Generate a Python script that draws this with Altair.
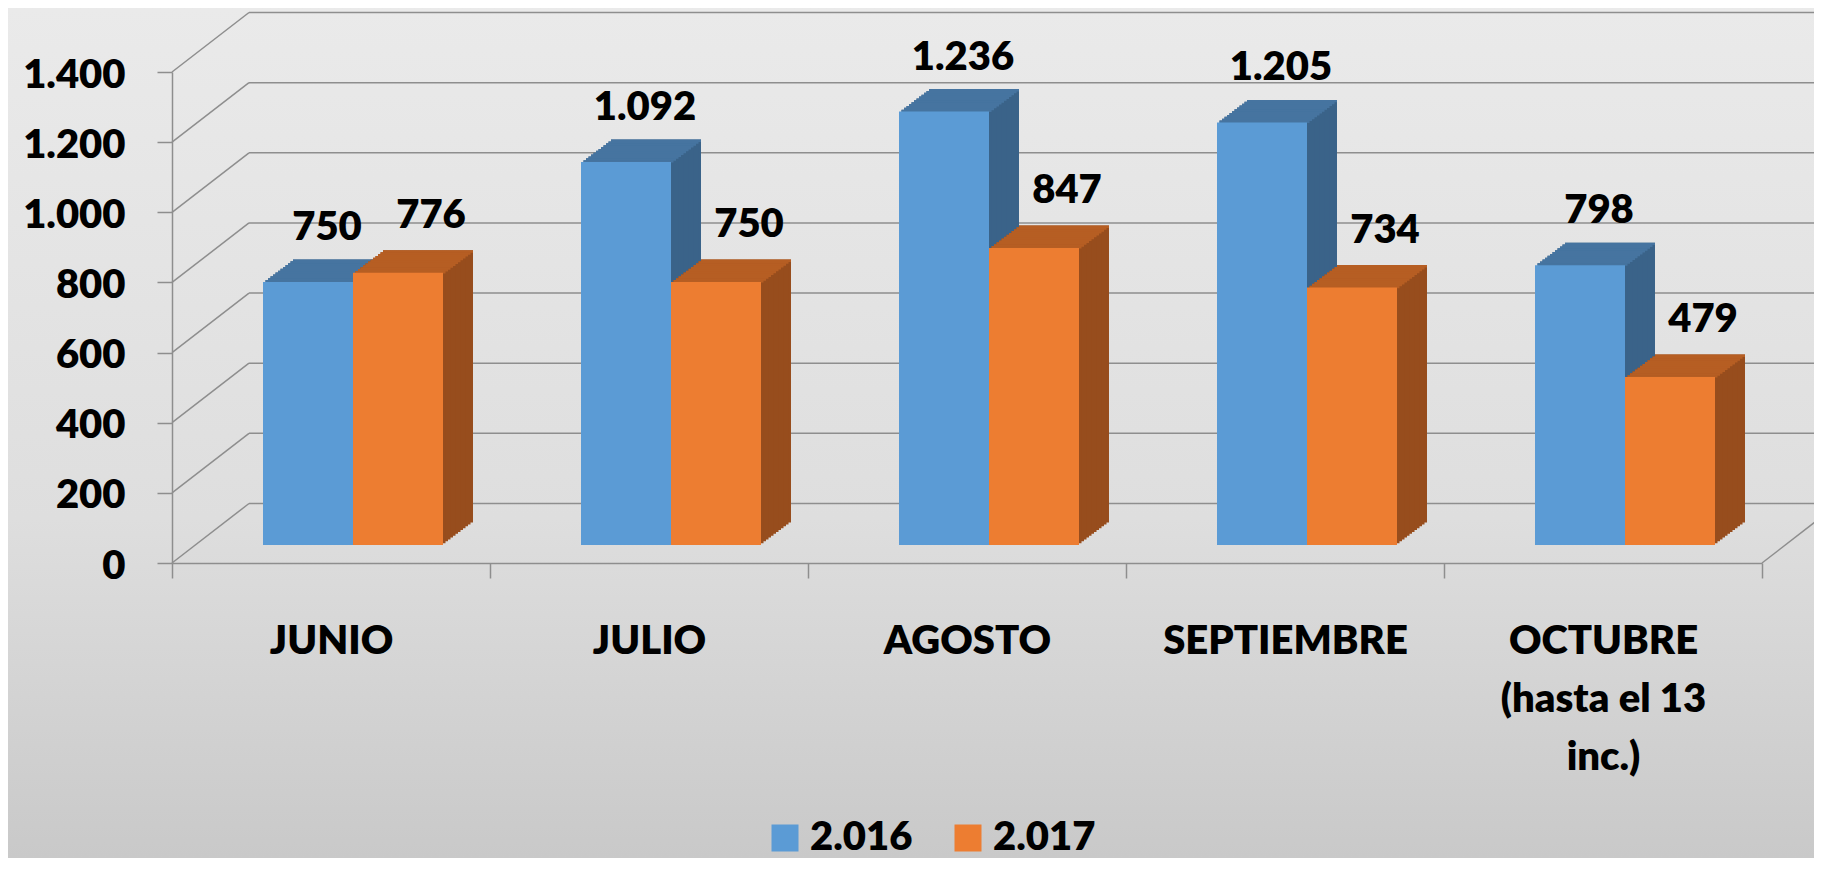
import altair as alt
import pandas as pd

# ---- data ----
months = ["JUNIO", "JULIO", "AGOSTO", "SEPTIEMBRE", "OCTUBRE\n(hasta el 13\ninc.)"]
series_names = ["2.016", "2.017"]
values_2016 = [750, 1092, 1236, 1205, 798]
values_2017 = [776, 750, 847, 734, 479]
y_ticks = [0, 200, 400, 600, 800, 1000, 1200, 1400]

rows = []
for s, vals in zip(series_names, [values_2016, values_2017]):
    for m, v in zip(months, vals):
        rows.append({"month": m, "series": s, "value": v,
                     "label": f"{v:,}".replace(",", ".")})
df = pd.DataFrame(rows)
grid_df = pd.DataFrame({"v": y_ticks})
floor_df = pd.DataFrame({"v": [0]})
one_df = pd.DataFrame({"a": [0]})

# ---- styling / geometry ----
W, H = 1590, 491
PAD = {"left": 164, "top": 64, "right": 52, "bottom": 295}
DEPTH_X, DEPTH_Y = 77, 59.5        # back wall offset
BAR_W = 90
BAR_SHIFT_X, BAR_SHIFT_Y = 22, 18  # bar front face depth
EXT_X, EXT_Y = 30, 22.5            # bar depth
N = 12
GRID = "#8e8e8e"
FONT = "Lato"
WEIGHT = 800

front = {"2.016": "#5B9BD5", "2.017": "#ED7D31"}
top_c = {"2.016": "#4674A0", "2.017": "#B65E23"}
side_c = {"2.016": "#3A6389", "2.017": "#974D1D"}
bar_off = {"2.016": BAR_SHIFT_X - BAR_W / 2, "2.017": BAR_SHIFT_X + BAR_W / 2}
label_dx = {"2.016": 19, "2.017": 33}
label_dy = {"2.016": -60, "2.017": -63}

x_enc = alt.X("month:N", sort=months, title=None,
              scale=alt.Scale(paddingInner=0, paddingOuter=0),
              axis=alt.Axis(labelExpr="split(datum.label, '\\n')",
                            labelFont=FONT, labelFontSize=40, labelFontWeight=WEIGHT,
                            labelColor="black", labelAngle=0, labelLineHeight=58,
                            labelPadding=43, labelLimit=600, tickBand="extent", tickSize=15,
                            tickColor=GRID, tickWidth=1.5, domainColor=GRID,
                            domainWidth=1.5, zindex=1))
y_scale = alt.Scale(domain=[0, 1400], nice=False)
y_enc = alt.Y("value:Q", scale=y_scale, title=None,
              axis=alt.Axis(values=y_ticks, grid=False,
                            labelExpr="replace(format(datum.value, ','), ',', '.')",
                            labelFont=FONT, labelFontSize=40, labelFontWeight=WEIGHT,
                            labelColor="black", labelPadding=32, labelOffset=3,
                            tickSize=15, tickColor=GRID, tickWidth=1.5,
                            domainColor=GRID, domainWidth=1.5, zindex=1))

layers = []

# background gradient
bg = alt.Chart(one_df).mark_rect(
    color=alt.LinearGradient(gradient="linear", x1=0, x2=0, y1=0, y2=1,
                             stops=[alt.GradientStop(color="#eaeaea", offset=0),
                                    alt.GradientStop(color="#dedede", offset=0.6),
                                    alt.GradientStop(color="#c9c9c9", offset=1)])
).encode(x=alt.value(-PAD["left"]), x2=alt.value(W + PAD["right"]),
         y=alt.value(-PAD["top"]), y2=alt.value(H + PAD["bottom"]))
layers.append(bg)

# back wall grid lines
back = alt.Chart(grid_df).mark_rule(color=GRID, strokeWidth=1.5, yOffset=-DEPTH_Y).encode(
    y=alt.Y("v:Q", scale=y_scale), x=alt.value(DEPTH_X), x2=alt.value(W + 200))
layers.append(back)

# left wall diagonals
diag = alt.Chart(grid_df).mark_rule(color=GRID, strokeWidth=1.5, y2Offset=-DEPTH_Y).encode(
    y=alt.Y("v:Q", scale=y_scale), y2="v:Q", x=alt.value(0), x2=alt.value(DEPTH_X))
layers.append(diag)

# right floor diagonal
rdiag = alt.Chart(floor_df).mark_rule(color=GRID, strokeWidth=1.5, y2Offset=-DEPTH_Y).encode(
    y=alt.Y("v:Q", scale=y_scale), y2="v:Q", x=alt.value(W), x2=alt.value(W + DEPTH_X))
layers.append(rdiag)

for s in series_names:
    base = alt.Chart(df).transform_filter(alt.datum.series == s)
    # side extrusion
    for k in range(N, 0, -1):
        ox = bar_off[s] + EXT_X * k / N
        oy = -BAR_SHIFT_Y - EXT_Y * k / N
        layers.append(base.mark_bar(width=BAR_W, xOffset=ox, yOffset=oy, y2Offset=oy,
                                    color=side_c[s]).encode(x=x_enc, y=y_enc, y2=alt.datum(0)))
    # top face strips
    for k in range(1, N + 1):
        ox = bar_off[s] + EXT_X * k / N
        oy1 = -BAR_SHIFT_Y - EXT_Y * k / N
        oy2 = -BAR_SHIFT_Y - EXT_Y * (k - 1) / N + 0.6
        layers.append(base.mark_bar(width=BAR_W, xOffset=ox, yOffset=oy1, y2Offset=oy2,
                                    color=top_c[s]).encode(x=x_enc, y=y_enc, y2=alt.Y2("value")))
    # front face
    layers.append(base.mark_bar(width=BAR_W, xOffset=bar_off[s], yOffset=-BAR_SHIFT_Y,
                                y2Offset=-BAR_SHIFT_Y).encode(
        x=x_enc, y=y_enc, y2=alt.datum(0),
        color=alt.Color("series:N",
                        scale=alt.Scale(domain=series_names,
                                        range=[front[n] for n in series_names]),
                        legend=alt.Legend(title=None, orient="none", direction="horizontal",
                                          legendX=593, legendY=746, padding=0,
                                          symbolType="square", symbolSize=729,
                                          symbolStrokeWidth=0, labelFont=FONT,
                                          labelFontSize=40, labelFontWeight=WEIGHT,
                                          labelColor="black", labelOffset=5,
                                          columnPadding=35, labelLimit=300))))

for s in series_names:
    layers.append(alt.Chart(df).transform_filter(alt.datum.series == s).mark_text(
        font=FONT, fontSize=40, fontWeight=WEIGHT, color="black", baseline="alphabetic",
        align="center", dx=bar_off[s] + label_dx[s], dy=label_dy[s]
    ).encode(x=x_enc, y=y_enc, text="label:N"))

chart = alt.layer(*layers).properties(
    width=W, height=H, padding=PAD,
    autosize=alt.AutoSizeParams(type="none"),
    background="#dedede",
).configure_view(stroke=None)

chart.save("out.html", embed_options={"renderer": "svg", "actions": False})
